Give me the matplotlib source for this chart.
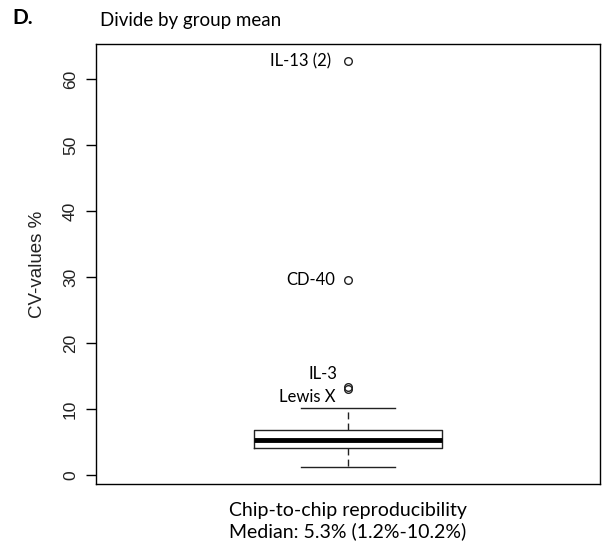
import matplotlib
matplotlib.use("Agg")
import matplotlib.pyplot as plt

# CV values (%), summarised from the picture
box_q1 = 4.1
box_median = 5.3
box_q3 = 6.8
whisker_low = 1.2
whisker_high = 10.2
outlier_values = [13.0, 13.3, 29.6, 62.7]
outlier_labels = ["Lewis X", "IL-3", "CD-40", "IL-13 (2)"]
y_ticks = [0, 10, 20, 30, 40, 50, 60]

stats = [{
    "med": box_median, "q1": box_q1, "q3": box_q3,
    "whislo": whisker_low, "whishi": whisker_high,
    "fliers": outlier_values, "label": "",
}]

line_col = "#222222"

fig = plt.figure(figsize=(6.05, 5.49), dpi=100)
ax = fig.add_axes([0.1587, 0.1184, 0.8330, 0.8015])

ax.bxp(
    stats, positions=[1], widths=0.373, showfliers=True,
    boxprops=dict(color=line_col, linewidth=1.0),
    medianprops=dict(color="black", linewidth=3.5),
    whiskerprops=dict(color=line_col, linewidth=1.0, linestyle=(0, (5, 3))),
    capprops=dict(color=line_col, linewidth=1.0),
    capwidths=0.187,
    flierprops=dict(marker="o", markerfacecolor="none", markeredgecolor=line_col,
                    markersize=5.5, markeredgewidth=1.0),
)

ax.set_xlim(0.5, 1.5)
ax.set_ylim(-1.36, 65.3)
ax.set_xticks([])
ax.set_yticks(y_ticks)
ax.set_yticklabels([str(t) for t in y_ticks], rotation=90, va="center",
                   fontsize=12.5, family="Liberation Sans", color="#222222")
ax.tick_params(axis="y", length=7, width=1, pad=6)
for s in ax.spines.values():
    s.set_linewidth(1.0)

ax.set_ylabel("CV-values %", fontsize=13.5, family="Liberation Sans",
              color="#222222", labelpad=12)

# outlier labels
label_font = dict(fontsize=12, family="Lato", ha="right", va="center")
ax.text(0.966, outlier_values[3], outlier_labels[3], **label_font)
ax.text(0.974, outlier_values[2], outlier_labels[2], **label_font)
ax.text(0.978, 15.3, outlier_labels[1], **label_font)
ax.text(0.976, 11.8, outlier_labels[0], **label_font)

ax.text(0.5, -0.040, "Chip-to-chip reproducibility\nMedian: 5.3% (1.2%-10.2%)",
        transform=ax.transAxes, ha="center", va="top", fontsize=14,
        family="Lato", linespacing=1.25)

fig.text(0.165, 0.963, "Divide by group mean", fontsize=13.5, family="Lato",
         ha="left", va="center")
fig.text(0.020, 0.967, "D.", fontsize=15, family="Lato", fontweight="bold",
         ha="left", va="center")

fig.savefig("out.png", dpi=100)
